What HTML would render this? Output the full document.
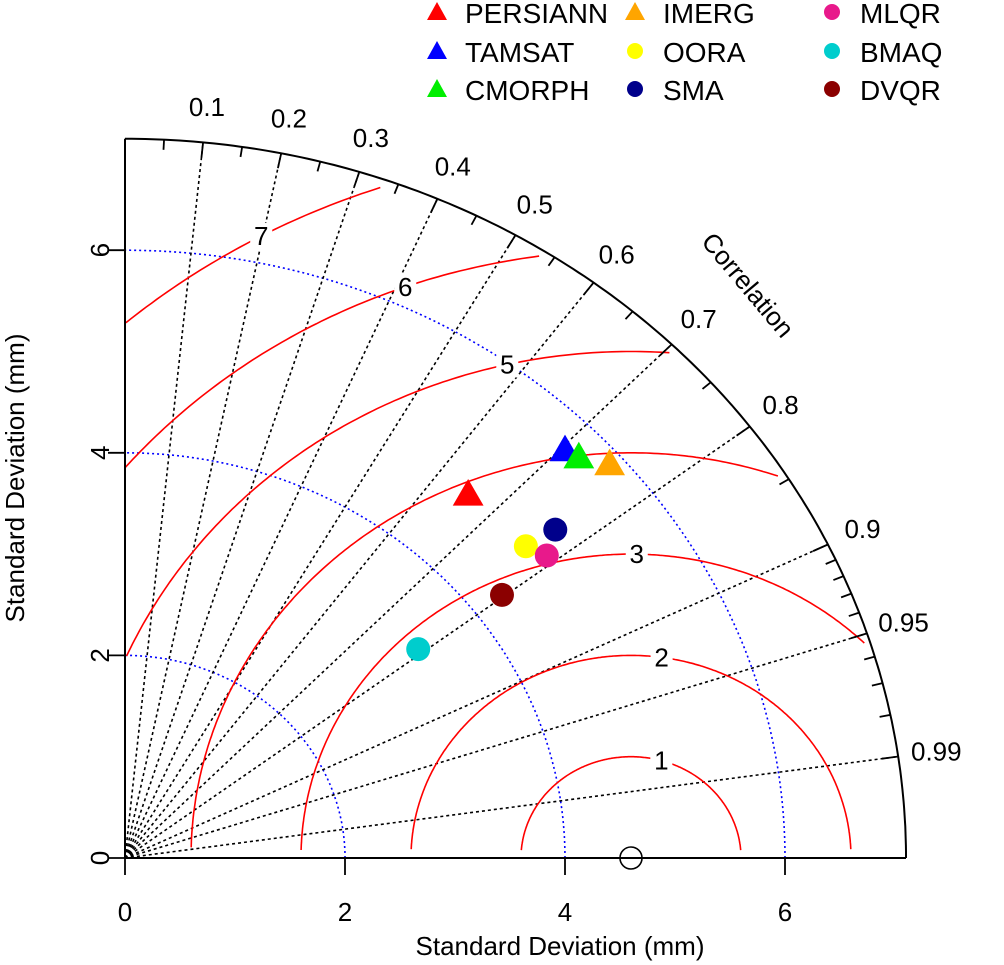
<!DOCTYPE html>
<html><head><meta charset="utf-8"><style>
body{margin:0;background:#fff}
svg{display:block;font-family:"Liberation Sans",Arial,sans-serif}
</style></head><body>
<svg id="chart" width="1004" height="965" viewBox="0 0 1004 965"></svg>
<script>
const names=["PERSIANN","TAMSAT","CMORPH","IMERG","OORA","SMA","MLQR","BMAQ","DVQR"];
const sdValues=[4.77,5.69,5.73,5.89,4.77,5.08,4.86,3.37,4.30];
const corrValues=[0.654,0.703,0.720,0.748,0.764,0.770,0.789,0.791,0.797];
const colors=["#ff0000","#0000ff","#00ee00","#ffa500","#ffff00","#00008b","#e8198b","#00cdcd","#8b0000"];
const shapes=["tri","tri","tri","tri","dot","dot","dot","dot","dot"];
const refSd=4.6;
const rmsLevels=[1,2,3,4,5,6,7];
const rmsLabelAngles=[74,82,89,null,103,110,118.7];
const corrMajor=[0.1,0.2,0.3,0.4,0.5,0.6,0.7,0.8,0.9,0.95,0.99];
const corrLabels=["0.1","0.2","0.3","0.4","0.5","0.6","0.7","0.8","0.9","0.95","0.99"];
const sdTicks=[0,2,4,6];
const R=7.1;

const NS="http://www.w3.org/2000/svg";
const svg=document.getElementById('chart');
const X0=125,Y0=858,KX=110,KY=101.3;
const px=x=>X0+x*KX, py=y=>Y0-y*KY;
function el(t,a,p){const e=document.createElementNS(NS,t);for(const k in a)e.setAttribute(k,a[k]);(p||svg).appendChild(e);return e;}
function poly(pts){return pts.map(p=>px(p[0]).toFixed(1)+","+py(p[1]).toFixed(1)).join(" ");}

[2,4,6].forEach(r=>{const pts=[];for(let i=0;i<=90;i++){const a=i*Math.PI/180;pts.push([r*Math.cos(a),r*Math.sin(a)]);}
const e=el('polyline',{points:poly(pts),fill:'none',stroke:'#0000ff','stroke-width':1.6,'stroke-dasharray':'2,3'});

});

corrMajor.forEach((c,i)=>{const s=Math.sqrt(1-c*c);
const e=el('line',{x1:px(0),y1:py(0),x2:px(R*c),y2:py(R*s),stroke:'#000','stroke-width':1.6,'stroke-dasharray':'3,3'});

});

rmsLevels.forEach((r,i)=>{const pts=[];
for(let d=0;d<=180;d+=0.5){const a=d*Math.PI/180;const x=refSd+r*Math.cos(a),y=r*Math.sin(a);
if(x>=0&&y>=0.07&&Math.hypot(x,y)<=7.05)pts.push([x,y]);}
const e=el('polyline',{points:poly(pts),fill:'none',stroke:'#ff0000','stroke-width':1.6});


const la=rmsLabelAngles[i];
if(la!==null){const a=la*Math.PI/180;const lx=px(refSd+r*Math.cos(a)),ly=py(r*Math.sin(a));
el('rect',{x:lx-11,y:ly-13,width:22,height:26,fill:'#fff'});
const t=el('text',{x:lx,y:ly+9,'font-size':26,'text-anchor':'middle'});t.textContent=r;

}});

{const pts=[];for(let i=0;i<=180;i++){const a=i*Math.PI/360;pts.push([R*Math.cos(a),R*Math.sin(a)]);}
const e=el('polyline',{points:poly(pts),fill:'none',stroke:'#000','stroke-width':2});

}
el('line',{x1:px(0),y1:py(0),x2:px(R),y2:py(0),stroke:'#000','stroke-width':2});
el('line',{x1:px(0),y1:py(0),x2:px(0),y2:py(R),stroke:'#000','stroke-width':2});
const tickCorr=[];for(let k=1;k<=18;k++)tickCorr.push(k*0.05);for(let k=91;k<=99;k++)tickCorr.push(k/100);
tickCorr.forEach(c=>{const major=corrMajor.some(m=>Math.abs(m-c)<1e-6);const s=Math.sqrt(1-c*c);const r2=major?6.95:7.0;
el('line',{x1:px(R*c),y1:py(R*s),x2:px(r2*c),y2:py(r2*s),stroke:'#000','stroke-width':1.8});});
corrMajor.forEach((c,i)=>{const s=Math.sqrt(1-c*c);const rr=7.45;
const t=el('text',{x:px(rr*c),y:py(rr*s)+9,'font-size':26,'text-anchor':'middle'});t.textContent=corrLabels[i];

});
{const t=el('text',{x:748,y:294,'font-size':26,'text-anchor':'middle',transform:'rotate(50 748 285)'});t.textContent='Correlation';

}

sdTicks.forEach(v=>{
el('line',{x1:px(v),y1:Y0,x2:px(v),y2:Y0+17,stroke:'#000','stroke-width':1.8});
let t=el('text',{x:px(v),y:921,'font-size':26,'text-anchor':'middle'});t.textContent=v;


el('line',{x1:X0,y1:py(v),x2:X0-17,y2:py(v),stroke:'#000','stroke-width':1.8});
t=el('text',{x:0,y:0,'font-size':26,'text-anchor':'middle',transform:`translate(109 ${py(v)}) rotate(-90)`});t.textContent=v;

});
{let t=el('text',{x:560,y:955,'font-size':26,'text-anchor':'middle'});t.textContent='Standard Deviation (mm)';


t=el('text',{x:0,y:0,'font-size':26,'text-anchor':'middle',transform:'translate(24 478) rotate(-90)'});t.textContent='Standard Deviation (mm)';

}

{const e=el('circle',{cx:px(refSd),cy:py(0),r:11,fill:'none',stroke:'#000','stroke-width':1.6});

}

function marker(shape,x,y,col,sz){
if(shape==='tri')return el('polygon',{points:`${x},${y-sz*1.1} ${x-sz*1.1},${y+sz*0.8} ${x+sz*1.1},${y+sz*0.8}`,fill:col});
return el('circle',{cx:x,cy:y,r:sz,fill:col});}
names.forEach((n,i)=>{const c=corrValues[i],s=sdValues[i];
const x=px(s*c),y=py(s*Math.sqrt(1-c*c));
const e=marker(shapes[i],x,y+(shapes[i]==='tri'?2:0),colors[i],shapes[i]==='tri'?14:12);

});

const legX=[437,635,832],legY=[12,51,89];
names.forEach((n,i)=>{const col=Math.floor(i/3),row=i%3;
const g=el('g',{});


const x=legX[col],y=legY[row];
if(shapes[i]==='tri')el('polygon',{points:`${x},${y-10} ${x-10},${y+8} ${x+10},${y+8}`,fill:colors[i]},g);
else el('circle',{cx:x,cy:y,r:8,fill:colors[i]},g);
const t=el('text',{x:x+28,y:y+11,'font-size':28},g);t.textContent=n;});
</script>
</body></html>
